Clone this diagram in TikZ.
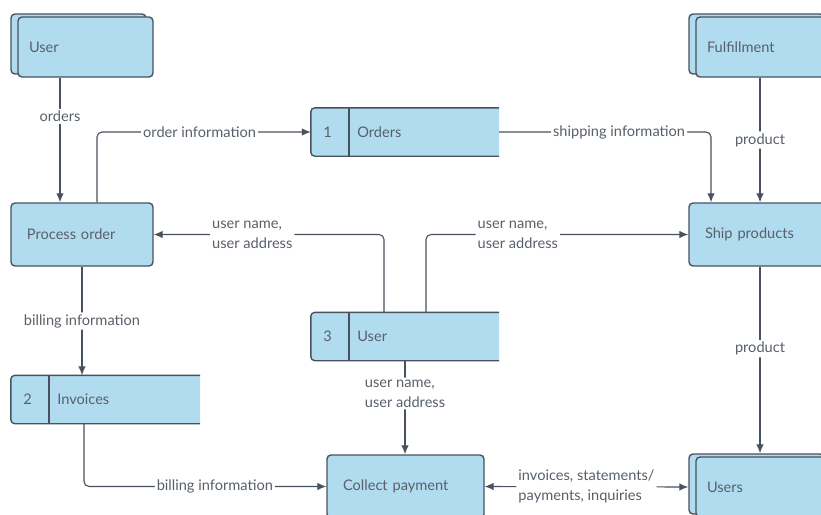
\documentclass[tikz,border=0pt]{standalone}
\usepackage{fontspec}
\setmainfont{Lato}
\usetikzlibrary{arrows.meta, shadows}

\definecolor{boxfill}{RGB}{177,220,240}
\definecolor{edge}{RGB}{72,82,94}
\definecolor{txt}{RGB}{88,96,106}

\begin{document}
\begin{tikzpicture}[x=1pt,y=-1pt,
    every node/.style={text=txt, font=\fontsize{14.6}{20}\selectfont},
    >={Latex[length=9pt,width=7.5pt]},
    process/.style={draw=edge, fill=boxfill, line width=1.4pt, rounded corners=4pt,
      minimum height=63pt, inner xsep=16pt, align=left},
    entity/.style={draw=edge, fill=boxfill, line width=1.4pt, rounded corners=4pt,
      minimum height=60pt, inner xsep=11pt, text width=113pt, align=left,
      copy shadow={shadow xshift=-7pt, shadow yshift=3pt}},
    store/.style={minimum width=188pt, minimum height=48pt, inner sep=0pt},
    sline/.style={draw=edge, line width=1.4pt},
    flow/.style={draw=edge, line width=1.1pt, rounded corners=5pt, ->},
    elbl/.style={fill=white, inner sep=2pt, align=left}]
  \useasboundingbox (0,0) rectangle (821,514);
  \clip (0,0) rectangle (821,514);

  % external entities and processes
  \node[entity] (userE) at (85.5,47) {User};
  \node[entity] (fulfil) at (763.5,47) {Fulfillment};
  \node[process, text width=110pt] (procO) at (82,234.5) {Process order};
  \node[process, text width=110pt] (shipP) at (760,234.5) {Ship products};
  \node[process, text width=125pt] (collP) at (405.5,486.5) {Collect payment};
  \node[entity] (users) at (763.5,487) {Users};

  % data stores
  \node[store] (ord) at (405,132) {};
  \draw[sline, fill=boxfill, rounded corners=4pt] (ord.north east) -- (ord.north west) -- (ord.south west) -- (ord.south east);
  \draw[sline] ([xshift=38pt]ord.north west) -- ([xshift=38pt]ord.south west);
  \node[anchor=west] (ordN) at ([xshift=9pt]ord.west) {1};
  \node[anchor=west] (ordT) at ([xshift=43pt]ord.west) {Orders};

  \node[store] (usrS) at (405,336.5) {};
  \draw[sline, fill=boxfill, rounded corners=4pt] (usrS.north east) -- (usrS.north west) -- (usrS.south west) -- (usrS.south east);
  \draw[sline] ([xshift=38pt]usrS.north west) -- ([xshift=38pt]usrS.south west);
  \node[anchor=west] (usrN) at ([xshift=9pt]usrS.west) {3};
  \node[anchor=west] (usrT) at ([xshift=43pt]usrS.west) {User};

  \node[store, minimum width=189pt] (inv) at (105.5,399.5) {};
  \draw[sline, fill=boxfill, rounded corners=4pt] (inv.north east) -- (inv.north west) -- (inv.south west) -- (inv.south east);
  \draw[sline] ([xshift=38pt]inv.north west) -- ([xshift=38pt]inv.south west);
  \node[anchor=west] (invN) at ([xshift=9pt]inv.west) {2};
  \node[anchor=west] (invT) at ([xshift=43pt]inv.west) {Invoices};

  % flows
  \draw[flow] ([xshift=-25.5pt]userE.south) -- node[elbl, pos=0.31]{orders} ([xshift=-22pt]procO.north);
  \draw[flow] ([xshift=15pt]procO.north) |- node[elbl, pos=0.74]{order information} (ord.west);
  \draw[flow] (ord.east) -| node[elbl, pos=0.283]{shipping information} ([xshift=-49pt]shipP.north);
  \draw[flow] ([xshift=-3.5pt]fulfil.south) -- node[elbl]{product} (shipP.north);
  \draw[flow] ([xshift=-21pt]usrS.north) |- node[elbl, pos=0.786]{user name,\\user address} (procO.east);
  \draw[flow] ([xshift=21pt]usrS.north) |- node[elbl, pos=0.675]{user name,\\user address} (shipP.west);
  \draw[flow] (procO.south) -- node[elbl]{billing information} ([xshift=-23.5pt]inv.north);
  \draw[flow] ([xshift=-21.5pt]inv.south) |- node[elbl, pos=0.77]{billing information} (collP.west);
  \draw[flow] (usrS.south) -- node[elbl, pos=0.35]{user name,\\user address} (usrS.south |- collP.north);
  \draw[flow] (shipP.south) -- node[elbl, pos=0.44]{product} ([xshift=-3.5pt, yshift=3pt]users.north);
  \draw[flow, <->] (collP.east) -- node[elbl, pos=0.5]{invoices, statements/\\payments, inquiries} ([xshift=-7pt]users.west);
\end{tikzpicture}
\end{document}
